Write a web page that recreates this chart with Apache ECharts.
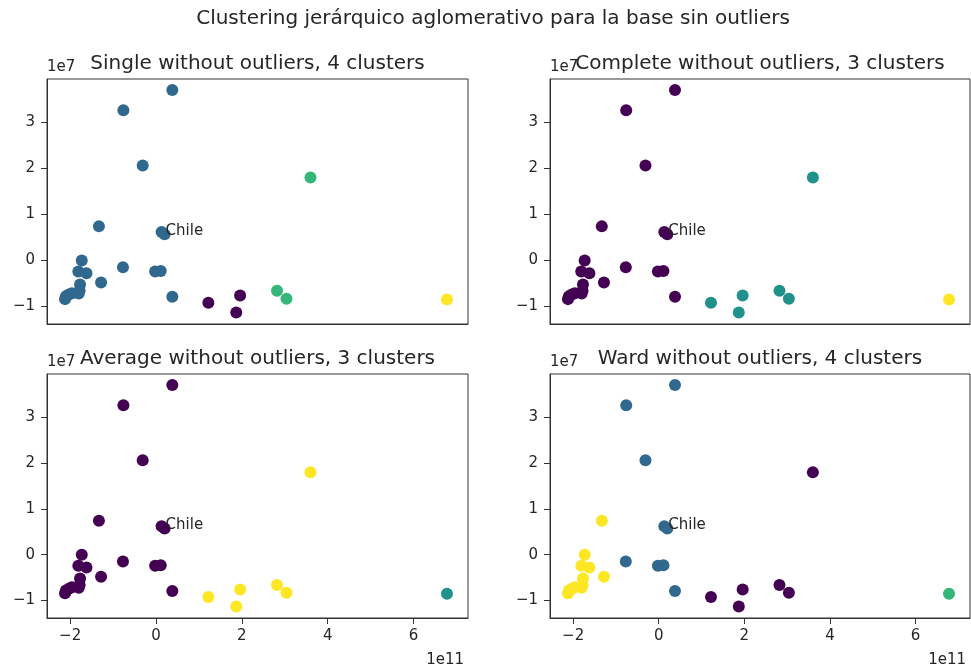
<!DOCTYPE html>
<html>
<head>
<meta charset="utf-8">
<script src="https://cdn.jsdelivr.net/npm/echarts@6/dist/echarts.min.js"></script>
<style>
html,body{margin:0;padding:0;background:#fff;}
#chart{width:971px;height:671px;}
</style>
</head>
<body>
<div id="chart"></div>
<script>
// Data (raw units: x shown as 1e11, y shown as 1e7)
const xVals = [0.38e11, -0.76e11, -0.31e11, 3.60e11, -1.33e11, 0.13e11, 0.20e11, -1.73e11, -1.81e11, -1.62e11,
  -0.77e11, -0.02e11, 0.11e11, -1.28e11, 0.38e11, -1.77e11, -1.78e11, -1.80e11, -1.96e11, -2.03e11,
  -2.10e11, -2.12e11, 1.22e11, 1.87e11, 1.96e11, 2.82e11, 3.04e11, 6.78e11];
const yVals = [3.70e7, 3.26e7, 2.06e7, 1.80e7, 0.74e7, 0.62e7, 0.57e7, 0.00e7, -0.24e7, -0.28e7,
  -0.15e7, -0.24e7, -0.23e7, -0.48e7, -0.79e7, -0.52e7, -0.66e7, -0.72e7, -0.71e7, -0.74e7,
  -0.78e7, -0.84e7, -0.92e7, -1.13e7, -0.76e7, -0.66e7, -0.83e7, -0.85e7];
const chileIndex = 6;
const labelsSingle   = [1,1,1,2,1,1,1,1,1,1,1,1,1,1,1,1,1,1,1,1,1,1,0,0,0,2,2,3];
const labelsComplete = [0,0,0,1,0,0,0,0,0,0,0,0,0,0,0,0,0,0,0,0,0,0,1,1,1,1,1,2];
const labelsAverage  = [0,0,0,2,0,0,0,0,0,0,0,0,0,0,0,0,0,0,0,0,0,0,2,2,2,2,2,1];
const labelsWard     = [1,1,1,0,3,1,1,3,3,3,1,1,1,3,1,3,3,3,3,3,3,3,0,0,0,0,0,2];
const subplotTitles = ['Single without outliers, 4 clusters', 'Complete without outliers, 3 clusters',
  'Average without outliers, 3 clusters', 'Ward without outliers, 4 clusters'];
const clusterCounts = [4, 3, 3, 4];
const xTicks = [-2e11, 0, 2e11, 4e11, 6e11];
const yTicks = [-1e7, 0, 1e7, 2e7, 3e7];
const suptitle = 'Clustering jerárquico aglomerativo para la base sin outliers';

const viridis = {
  3: ['#440154', '#21918c', '#fde725'],
  4: ['#440154', '#31688e', '#35b779', '#fde725']
};
const allLabels = [labelsSingle, labelsComplete, labelsAverage, labelsWard];

const FONT = 'DejaVu Sans';
const TXT = '#262626';
const LINE = '#333';
const SMALL = 15;

function fmt(v) {
  const r = Math.round(v);
  return r < 0 ? '\u2212' + Math.abs(r) : String(r);
}

const grids = [
  {left: 47, top: 79, width: 421, height: 245},
  {left: 550, top: 79, width: 420, height: 245},
  {left: 47, top: 374, width: 421, height: 244},
  {left: 550, top: 374, width: 420, height: 244}
];

const titles = [{
  text: suptitle, left: 493, top: 9, textAlign: 'center', padding: 0,
  textStyle: {fontFamily: FONT, fontSize: 20, fontWeight: 'normal', color: TXT}
}];
const titleTops = [54, 54, 349, 349];
grids.forEach((g, i) => {
  titles.push({
    text: subplotTitles[i], left: g.left + g.width / 2, top: titleTops[i], textAlign: 'center', padding: 0,
    textStyle: {fontFamily: FONT, fontSize: 20, fontWeight: 'normal', color: TXT}
  });
  titles.push({
    text: '1e7', left: g.left, top: g.top - 19, padding: 0,
    textStyle: {fontFamily: FONT, fontSize: SMALL, fontWeight: 'normal', color: TXT}
  });
  if (i >= 2) {
    titles.push({
      text: '1e11', left: g.left + g.width - 4, top: 653, textAlign: 'right', padding: 0,
      textStyle: {fontFamily: FONT, fontSize: SMALL, fontWeight: 'normal', color: TXT}
    });
  }
});

const xAxes = grids.map((g, i) => ({
  gridIndex: i, type: 'value', min: -2.54e11, max: 7.27e11,
  splitLine: {show: false},
  axisLine: {show: true, onZero: false, lineStyle: {color: LINE, width: 1}},
  axisTick: {show: i >= 2, length: 6, customValues: xTicks, lineStyle: {color: LINE}},
  axisLabel: {show: i >= 2, customValues: xTicks, margin: 11, fontFamily: FONT, fontSize: SMALL, color: TXT,
    formatter: v => fmt(v / 1e11)}
}));
const yAxes = grids.map((g, i) => ({
  gridIndex: i, type: 'value', min: -1.38e7, max: 3.94e7,
  splitLine: {show: false},
  axisLine: {show: true, onZero: false, lineStyle: {color: LINE, width: 1}},
  axisTick: {show: true, length: 6, customValues: yTicks, lineStyle: {color: LINE}},
  axisLabel: {show: true, customValues: yTicks, margin: 12, fontFamily: FONT, fontSize: SMALL, color: TXT,
    formatter: v => fmt(v / 1e7)}
}));

const series = grids.map((g, i) => {
  const labs = allLabels[i];
  const pal = viridis[clusterCounts[i]];
  const data = xVals.map((x, k) => {
    const item = {value: [x, yVals[k], labs[k]], itemStyle: {color: pal[labs[k]], opacity: 1}};
    if (k === chileIndex) {
      item.label = {show: true, formatter: 'Chile', position: [7, 10], align: 'left', verticalAlign: 'bottom',
        fontFamily: FONT, fontSize: SMALL, color: TXT};
    }
    return item;
  });
  return {
    type: 'scatter', xAxisIndex: i, yAxisIndex: i, symbolSize: 12, data: data,
    itemStyle: {opacity: 1},
    animation: false, emphasis: {disabled: true}
  };
});

const chart = echarts.init(document.getElementById('chart'), null, {renderer: 'canvas'});
chart.setOption({
  animation: false,
  backgroundColor: '#fff',
  title: titles,
  grid: grids.map(g => Object.assign({show: true, borderColor: LINE, borderWidth: 1, backgroundColor: '#fff'}, g)),
  xAxis: xAxes,
  yAxis: yAxes,
  series: series
});
</script>
</body>
</html>
